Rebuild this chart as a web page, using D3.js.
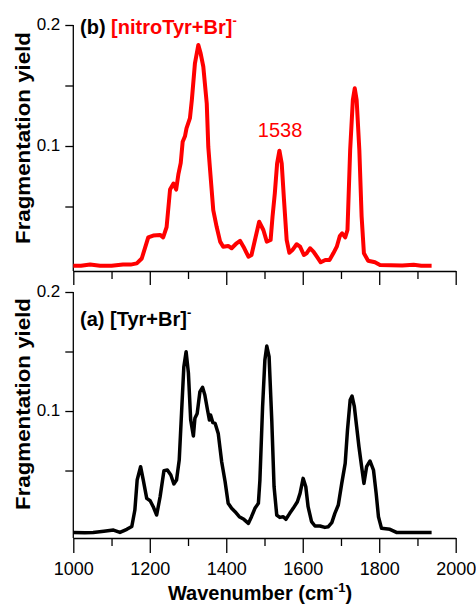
<!DOCTYPE html>
<html>
<head>
<meta charset="utf-8">
<script src="https://cdn.jsdelivr.net/npm/d3@7"></script>
<style>
  body { margin: 0; background: #fff; }
  svg text { font-family: "Liberation Sans", Arial, sans-serif; }
</style>
</head>
<body>
<svg id="chart" width="476" height="610"></svg>
<script>
// wavenumber (cm-1) and fragmentation yield
const nitroWn = [1000, 1020, 1044, 1070, 1100, 1130, 1150, 1166, 1179, 1196, 1209, 1227, 1235, 1244, 1253, 1262, 1269,
  1275, 1281, 1286, 1292, 1296, 1305, 1310, 1318, 1327, 1333, 1340, 1349, 1353, 1357, 1366, 1375, 1384, 1392, 1405,
  1414, 1427, 1436, 1445, 1458, 1466, 1475, 1486, 1497, 1506, 1516, 1521, 1527, 1533, 1539, 1545, 1551, 1558, 1565,
  1573, 1584, 1593, 1603, 1610, 1619, 1628, 1637, 1647, 1659, 1670, 1680, 1689, 1697, 1703, 1711, 1717, 1724, 1731,
  1736, 1741, 1748, 1754, 1760, 1771, 1789, 1802, 1830, 1860, 1890, 1910, 1937];
const nitroYield = [0.001, 0.001, 0.002, 0.001, 0.001, 0.002, 0.002, 0.003, 0.007, 0.0245, 0.026, 0.0265, 0.0245,
  0.033, 0.064, 0.069, 0.064, 0.077, 0.086, 0.1035, 0.108, 0.1146, 0.123, 0.138, 0.168, 0.1835, 0.1766, 0.1655,
  0.135, 0.0994, 0.083, 0.047, 0.033, 0.021, 0.0168, 0.0174, 0.0155, 0.0196, 0.0217, 0.0168, 0.0085, 0.0099,
  0.0223, 0.0374, 0.0306, 0.021, 0.0223, 0.0416, 0.061, 0.0857, 0.0961, 0.0857, 0.0554, 0.0223, 0.0118, 0.014,
  0.0188, 0.0168, 0.0099, 0.0113, 0.0155, 0.0127, 0.0085, 0.0039, 0.0058, 0.0058, 0.0113, 0.0168, 0.0256, 0.0278,
  0.0245, 0.0306, 0.0967, 0.138, 0.1477, 0.138, 0.0967, 0.0416, 0.0113, 0.0052, 0.0039, 0.0017, 0.0015, 0.0012,
  0.0018, 0.001, 0.001];

const tyrWn = [1000, 1030, 1052, 1080, 1105, 1122, 1140, 1153, 1161, 1167, 1176, 1183, 1192, 1201, 1209, 1218, 1227,
  1237, 1246, 1255, 1263, 1270, 1277, 1283, 1289, 1295, 1301, 1307, 1314, 1318, 1324, 1331, 1338, 1344, 1351, 1356,
  1359, 1365, 1371, 1379, 1388, 1397, 1405, 1414, 1423, 1434, 1446, 1458, 1466, 1475, 1484, 1488, 1495, 1501, 1506,
  1512, 1519, 1525, 1532, 1540, 1549, 1556, 1566, 1575, 1586, 1593, 1601, 1608, 1614, 1623, 1632, 1645, 1658, 1667,
  1676, 1684, 1693, 1702, 1711, 1717, 1724, 1729, 1735, 1741, 1747, 1754, 1760, 1767, 1776, 1785, 1792, 1798, 1806,
  1828, 1845, 1890, 1937];
const tyrYield = [-0.002, -0.0022, -0.002, -0.001, 0, -0.002, 0.0006, 0.003, 0.0168, 0.042, 0.0532, 0.042, 0.0266,
  0.0246, 0.0196, 0.0126, 0.028, 0.0498, 0.0504, 0.0462, 0.0387, 0.042, 0.0588, 0.098, 0.137, 0.1498, 0.132, 0.0924,
  0.079, 0.0939, 0.098, 0.116, 0.1199, 0.1134, 0.1008, 0.0924, 0.0966, 0.0902, 0.0896, 0.0812, 0.0574, 0.0406,
  0.0224, 0.0182, 0.0154, 0.0112, 0.009, 0.0056, 0.0112, 0.0182, 0.0224, 0.042, 0.1036, 0.1429, 0.1546, 0.1457,
  0.0924, 0.0364, 0.0126, 0.0106, 0.0112, 0.009, 0.014, 0.0182, 0.0238, 0.0308, 0.0434, 0.0364, 0.0196, 0.007,
  0.0034, 0.0034, 0.0022, 0.0028, 0.0062, 0.014, 0.021, 0.0392, 0.056, 0.084, 0.1092, 0.1126, 0.1036, 0.0868, 0.07,
  0.0532, 0.0392, 0.0532, 0.058, 0.0504, 0.0308, 0.0112, 0.0014, 0.0006, -0.002, -0.002, -0.002];

const xMajorTicks = [1000, 1200, 1400, 1600, 1800, 2000];
const xMinorTicks = [1100, 1300, 1500, 1700, 1900];
const yTicks = [0.05, 0.1, 0.15, 0.2];
const yLabelled = [0.1, 0.2];

const svg = d3.select("#chart");
const xScale = d3.scaleLinear().domain([1000, 2000]).range([73.3, 455.7]);

const panels = [
  {wn: nitroWn, val: nitroYield, color: "#ff0000", yDomain: [-0.0033, 0.2], yRange: [271, 25], width: 4,
   tag: "(b) ", name: "[nitroTyr+Br]", nameColor: "#ff0000", labelY: 34, titleY: 138, majorLen: 14, labels: false},
  {wn: tyrWn, val: tyrYield, color: "#000000", yDomain: [-0.0067, 0.2], yRange: [538, 292], width: 3.5,
   tag: "(a) ", name: "[Tyr+Br]", nameColor: "#000000", labelY: 326, titleY: 404, majorLen: 15, labels: true}
];

panels.forEach(p => {
  const yScale = d3.scaleLinear().domain(p.yDomain).range(p.yRange);
  const base = p.yRange[0];

  // x axis: minor then major ticks
  svg.append("g")
    .attr("transform", `translate(0,${base})`)
    .call(d3.axisBottom(xScale).tickValues(xMinorTicks).tickSize(8).tickFormat(""))
    .call(g => g.select(".domain").remove());
  const xa = svg.append("g")
    .attr("transform", `translate(0,${base})`)
    .call(d3.axisBottom(xScale).tickValues(xMajorTicks).tickSize(p.majorLen).tickSizeOuter(0)
      .tickPadding(9).tickFormat(d3.format("d")));
  if (!p.labels) xa.selectAll("text").remove();
  xa.selectAll("text").attr("font-size", 18).attr("font-family", "Liberation Sans, Arial, sans-serif");

  // y axis
  const ya = svg.append("g")
    .attr("transform", `translate(${xScale(1000)},0)`)
    .call(d3.axisLeft(yScale).tickValues(yTicks).tickSize(8).tickSizeOuter(0).tickPadding(5)
      .tickFormat(d => yLabelled.includes(d) ? d3.format(".1f")(d) : ""));
  ya.select(".domain").attr("d", `M0,${yScale(0.2)}V${base}`);
  ya.selectAll("text").attr("font-size", 17).attr("font-family", "Liberation Sans, Arial, sans-serif")
    .attr("dy", "0.25em");
  svg.selectAll(".domain, .tick line").attr("stroke", "#000").attr("stroke-width", 1.3);

  // spectrum
  const pts = p.wn.map((w, i) => [w, p.val[i]]);
  svg.append("path")
    .datum(pts)
    .attr("fill", "none")
    .attr("stroke", p.color)
    .attr("stroke-width", p.width)
    .attr("stroke-linejoin", "round")
    .attr("d", d3.line().x(d => xScale(d[0])).y(d => yScale(d[1])));

  // panel label
  const lab = svg.append("text")
    .attr("x", 80).attr("y", p.labelY)
    .attr("font-size", 20).attr("font-weight", "bold");
  lab.append("tspan").attr("fill", "#000").text(p.tag);
  lab.append("tspan").attr("fill", p.nameColor).text(p.name);
  lab.append("tspan").attr("fill", p.nameColor).attr("font-size", 13).attr("dy", -9).text("-");

  // y title
  svg.append("text")
    .attr("transform", `translate(29.5,${p.titleY}) rotate(-90)`)
    .attr("text-anchor", "middle")
    .attr("font-size", 20).attr("font-weight", "bold")
    .attr("textLength", 212).attr("lengthAdjust", "spacingAndGlyphs")
    .text("Fragmentation yield");

  if (!p.labels) {
    svg.append("text")
      .attr("x", xScale(1538) + 1).attr("y", 136.7)
      .attr("text-anchor", "middle")
      .attr("font-family", "Lato, sans-serif")
      .attr("font-size", 20)
      .attr("fill", "#ff0000")
      .text("1538");
  }
});

// x title
const xt = svg.append("text")
  .attr("x", 260).attr("y", 600)
  .attr("text-anchor", "middle")
  .attr("font-size", 20).attr("font-weight", "bold");
xt.append("tspan").text("Wavenumber (cm");
xt.append("tspan").attr("font-size", 13).attr("dy", -8).text("-1");
xt.append("tspan").attr("dy", 8).text(")");
</script>
</body>
</html>
